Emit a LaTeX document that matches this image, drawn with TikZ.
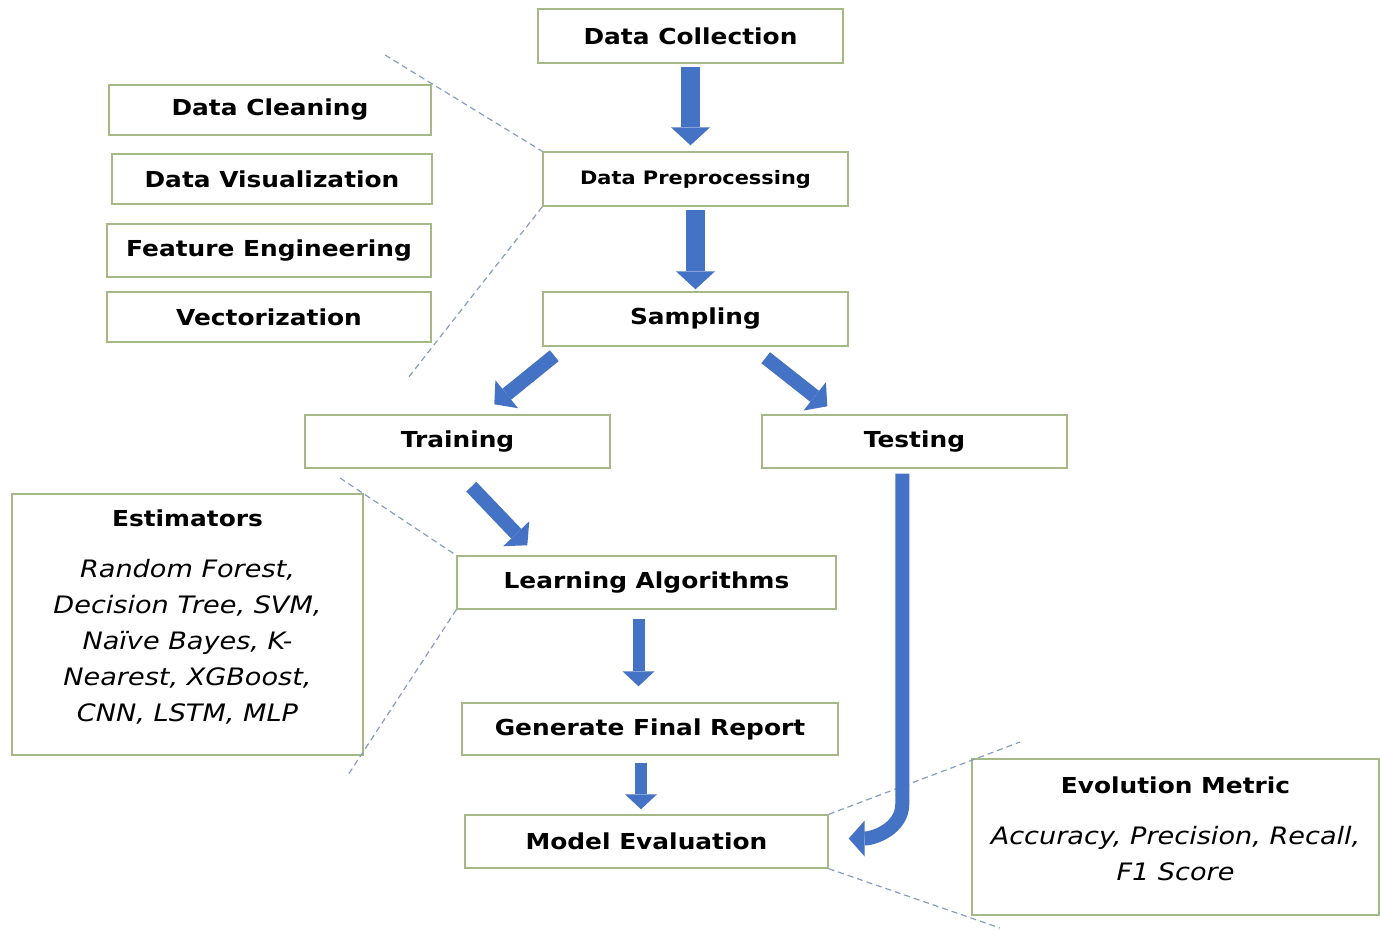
\documentclass[tikz,border=0pt]{standalone}
\usepackage{fontspec}
\setmainfont{DejaVu Sans}[FakeStretch=1.13]
\usetikzlibrary{arrows.meta,calc}
\definecolor{boxgreen}{RGB}{165,185,135}
\definecolor{flowblue}{RGB}{68,114,196}
\definecolor{guidegray}{RGB}{135,158,195}
\tikzset{
  stagebox/.style = {draw=boxgreen, line width=1.4pt, minimum width=305pt, minimum height=54pt, inner sep=0pt, font=\fontsize{22}{26}\selectfont\bfseries},
  infobox/.style = {draw=boxgreen, line width=1.4pt, inner sep=0pt},
  infotext/.style = {align=center, inner sep=0pt, font=\fontsize{24}{36}\selectfont},
  bigarrow/.style = {draw=flowblue, line width=19pt, -{Triangle[width=39pt,length=18pt,line width=0pt]}, shorten <=3pt, shorten >=6pt},
  thinarrow/.style = {bigarrow, line width=12pt, -{Triangle[width=32pt,length=15pt,line width=0pt]}},
  slimarrow/.style = {bigarrow, line width=14pt, -{Triangle[width=36pt,length=16pt,line width=0pt]}, shorten <=0pt, shorten >=0pt},
  guide/.style = {draw=guidegray, line width=1.2pt, dash pattern=on 6pt off 4pt},
}

\begin{document}
\begin{tikzpicture}[x=1pt, y=-1pt]
\fill[white] (0,0) rectangle (1380,930);
\useasboundingbox (0,0) rectangle (1380,930);

% main pipeline
\node[stagebox] (dc) at (690.5,36) {Data Collection};
\node[stagebox, font=\fontsize{18.5}{22}\selectfont\bfseries] (dp) at (695.5,179) {Data Preprocessing};
\node[stagebox] (sam) at (695.5,319) {Sampling};
\node[stagebox, minimum height=53pt] (trn) at (457.5,441.5) {Training};
\node[stagebox, minimum height=53pt] (tst) at (914.5,441.5) {Testing};
\node[stagebox, minimum width=379pt, minimum height=53pt] (la) at (646.5,582.5) {Learning Algorithms};
\node[stagebox, minimum width=376pt, minimum height=52pt] (gfr) at (650,729) {Generate Final Report};
\node[stagebox, minimum width=363pt, minimum height=53pt] (me) at (646.5,841.5) {Model Evaluation};

% preprocessing steps
\node[stagebox, minimum width=322pt, minimum height=50pt] (cln) at (270,110) {Data Cleaning};
\node[stagebox, minimum width=320pt, minimum height=50pt] (vis) at (272,179) {Data Visualization};
\node[stagebox, minimum width=324pt, minimum height=53pt] (fe) at (269,250.5) {Feature Engineering};
\node[stagebox, minimum width=324pt, minimum height=50pt] (vec) at (269,317) {Vectorization};

% side notes
\node[infobox, minimum width=351pt, minimum height=261pt] (est) at (187.5,624.5) {};
\node[infotext] (esttxt) at ($(est)+(0,-7)$)
  {{\fontsize{22}{26}\selectfont\bfseries Estimators}\\[15pt]
   \textit{Random Forest,}\\ \textit{Decision Tree, SVM,}\\ \textit{Naïve Bayes, K-}\\
   \textit{Nearest, XGBoost,}\\ \textit{CNN, LSTM, MLP}};
\node[infobox, minimum width=407pt, minimum height=156pt] (evm) at (1175.5,837) {};
\node[infotext] (evmtxt) at ($(evm)+(0,-8)$)
  {{\fontsize{22}{26}\selectfont\bfseries Evolution Metric}\\[15pt]
   \textit{Accuracy, Precision, Recall,}\\ \textit{F1 Score}};

% zoom lines
\coordinate (g1) at (385,55);
\coordinate (g2) at (408,378);
\coordinate (g3) at (340,478);
\coordinate (g4) at (348,775);
\coordinate (g5) at (1020,742);
\coordinate (g6) at (1000,928);
\draw[guide] (g1) -- (dp.north west);
\draw[guide] (dp.south west) -- (g2);
\draw[guide] (g3) -- (la.north west);
\draw[guide] (la.south west) -- (g4);
\draw[guide] (me.north east) -- (g5);
\draw[guide] (me.south east) -- (g6);

% flow arrows
\draw[bigarrow] (dc.south) -- (dc.south |- dp.north);
\draw[bigarrow, shorten >=2pt] (dp.south) -- (dp.south |- sam.north);
\draw[slimarrow] ($(sam.south west)+(12,9)$) -- ($(trn.north west)+(190,-10)$);
\draw[slimarrow] ($(sam.south east)+(-83,11)$) -- ($(tst.north west)+(66,-8)$);
\draw[slimarrow] ($(trn.south west)+(167,18)$) -- ($(la.north west)+(71,-10)$);
\draw[thinarrow, shorten <=9pt, shorten >=16pt] ([xshift=-8pt]la.south) -- ([xshift=-8pt]la.south |- gfr.north);
\draw[thinarrow, shorten <=7pt, shorten >=5pt] ([xshift=-9pt]gfr.south) -- ([xshift=-9pt]gfr.south |- me.north);
\draw[slimarrow] ($(tst.south west)+(141,5)$) -- ++(0,330) to[out=-90,in=0] ($(me.east)+(20,-3)$);
\end{tikzpicture}
\end{document}
